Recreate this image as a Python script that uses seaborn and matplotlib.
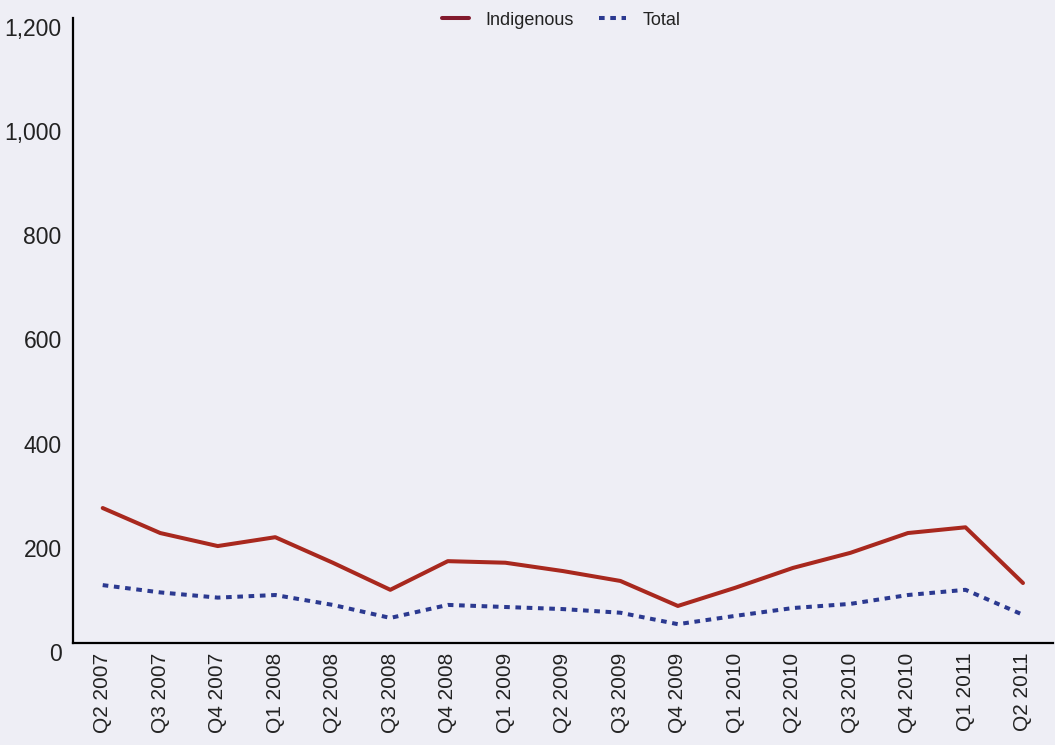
import matplotlib
matplotlib.use("Agg")
import matplotlib.pyplot as plt
from matplotlib.lines import Line2D
import seaborn as sns
import pandas as pd

quarters = ["Q2 2007", "Q3 2007", "Q4 2007", "Q1 2008", "Q2 2008", "Q3 2008",
            "Q4 2008", "Q1 2009", "Q2 2009", "Q3 2009", "Q4 2009", "Q1 2010",
            "Q2 2010", "Q3 2010", "Q4 2010", "Q1 2011", "Q2 2011"]
indigenous = [259, 211, 186, 203, 154, 102, 157, 154, 138, 119, 71, 106,
              144, 173, 211, 222, 115]
total = [111, 97, 87, 92, 73, 48, 73, 69, 65, 58, 36, 52, 67, 75, 92, 102, 54]
yticks = [0, 200, 400, 600, 800, 1000, 1200]

sns.set_theme(style="white")
plt.rcParams['font.family'] = ['Liberation Sans', 'DejaVu Sans']

df = pd.DataFrame({
    "Quarter": quarters * 2,
    "Value": indigenous + total,
    "Series": ["Indigenous"] * len(quarters) + ["Total"] * len(quarters),
})

bg = "#EEEEF5"
red = "#A8281E"
blue = "#2B3990"

fig = plt.figure(figsize=(10.55, 7.45), dpi=100)
fig.patch.set_facecolor(bg)
ax = fig.add_axes([0.069, 0.137, 0.929, 0.839])
ax.set_facecolor(bg)

sns.lineplot(data=df, x="Quarter", y="Value", hue="Series", style="Series",
             palette={"Indigenous": red, "Total": blue},
             dashes={"Indigenous": "", "Total": (1.4, 1.4)},
             linewidth=2.9, sort=False, ax=ax, legend=False)

ax.set_xlim(-0.52, 16.52)
ax.set_ylim(0, 1200)
ax.set_yticks(yticks)
ax.set_yticklabels([f"{v:,}" for v in yticks], va="top")
ax.set_xlabel("")
ax.set_ylabel("")
ax.tick_params(axis="y", length=0, pad=8, labelsize=16.5, labelcolor="#222222")
ax.tick_params(axis="x", length=0, pad=7, labelsize=15, labelcolor="#222222")
for lab in ax.get_xticklabels():
    lab.set_rotation(90)
    lab.set_fontsize(15)

for s in ["top", "right"]:
    ax.spines[s].set_visible(False)
for s in ["left", "bottom"]:
    ax.spines[s].set_color("black")
    ax.spines[s].set_linewidth(1.6)

handles = [Line2D([0], [0], color="#821A2D", lw=2.9),
           Line2D([0], [0], color=blue, lw=2.9, dashes=(1.4, 1.4))]
leg = fig.legend(handles, ["Indigenous", "Total"], loc="center",
                 bbox_to_anchor=(0.532, 0.973), ncol=2, frameon=False,
                 handlelength=1.5, columnspacing=1.4, handletextpad=0.9,
                 prop={"size": 13})
for t in leg.get_texts():
    t.set_color("#222222")

fig.savefig("out.png", dpi=100, facecolor=bg)
